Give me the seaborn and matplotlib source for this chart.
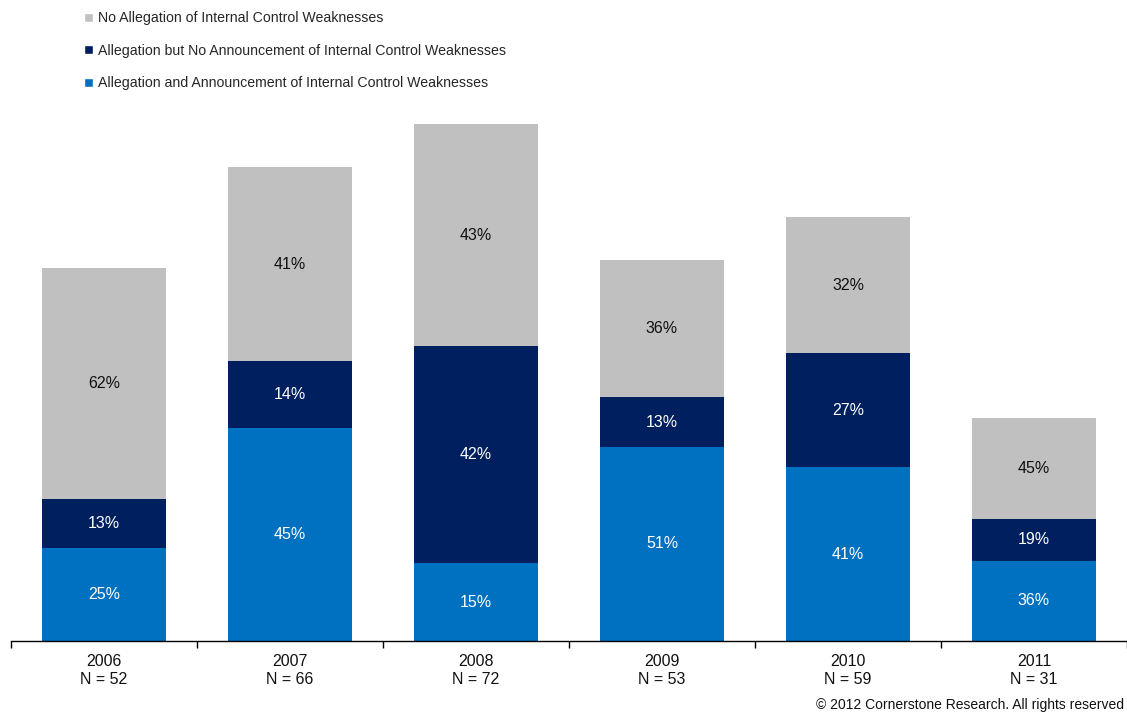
import matplotlib
matplotlib.use("Agg")
import matplotlib.pyplot as plt
from matplotlib.patches import Patch
from matplotlib.ticker import FixedLocator
import numpy as np
import pandas as pd
import seaborn as sns

# Filing counts and segment shares per year
years = ["2006", "2007", "2008", "2009", "2010", "2011"]
n_cases = [52, 66, 72, 53, 59, 31]
pct_announced = [25, 45, 15, 51, 41, 36]      # allegation and announcement
pct_not_announced = [13, 14, 42, 13, 27, 19]  # allegation, no announcement
pct_no_allegation = [62, 41, 43, 36, 32, 45]  # no allegation

series_names = [
    "No Allegation of Internal Control Weaknesses",
    "Allegation but No Announcement of Internal Control Weaknesses",
    "Allegation and Announcement of Internal Control Weaknesses",
]
colors = {"gray": "#C0C0C0", "navy": "#001F5F", "blue": "#0070C0"}

sns.set_theme(style="white")
plt.rcParams["font.family"] = ["Liberation Sans", "DejaVu Sans"]

n = np.array(n_cases, dtype=float)
a = n * np.array(pct_announced) / 100
b = n * np.array(pct_not_announced) / 100
c = n * np.array(pct_no_allegation) / 100

df = pd.DataFrame({
    "year": years,
    "total": a + b + c,
    "lower_two": a + b,
    "lower_one": a,
})

fig = plt.figure(figsize=(11.27, 7.17), dpi=100)
ax = fig.add_axes([11 / 1127, 76 / 717, 1 - 11 / 1127, (641 - 110) / 717])

# Stack by overdrawing cumulative heights from the tallest down
sns.barplot(data=df, x="year", y="total", color=colors["gray"], width=0.667,
            saturation=1, ax=ax, linewidth=0)
sns.barplot(data=df, x="year", y="lower_two", color=colors["navy"], width=0.667,
            saturation=1, ax=ax, linewidth=0)
sns.barplot(data=df, x="year", y="lower_one", color=colors["blue"], width=0.667,
            saturation=1, ax=ax, linewidth=0)

ax.set_xlim(-0.5, 5.5)
ax.set_ylim(0, (641 - 110) / 7.18)

# Segment labels centred in each piece
for i in range(len(years)):
    ax.text(i, a[i] / 2, f"{pct_announced[i]}%", ha="center", va="center",
            color="white", fontsize=11.5)
    ax.text(i, a[i] + b[i] / 2, f"{pct_not_announced[i]}%", ha="center",
            va="center", color="white", fontsize=11.5)
    ax.text(i, a[i] + b[i] + c[i] / 2, f"{pct_no_allegation[i]}%", ha="center",
            va="center", color="#111111", fontsize=11.5)

# Axes styling: only the baseline, with ticks between categories
for side in ["left", "right", "top"]:
    ax.spines[side].set_visible(False)
ax.spines["bottom"].set_color("black")
ax.spines["bottom"].set_linewidth(1.0)
ax.set_yticks([])
ax.set_ylabel("")
ax.set_xlabel("")
ax.set_xticks(range(len(years)))
ax.set_xticklabels([f"{y}\nN = {k}" for y, k in zip(years, n_cases)],
                   fontsize=11.5, color="#111111", linespacing=1.25)
ax.tick_params(axis="x", which="major", length=0, pad=9)
ax.xaxis.set_minor_locator(FixedLocator(np.arange(-0.5, 6.0, 1.0)))
ax.tick_params(axis="x", which="minor", length=5, width=1, color="black",
               direction="out", bottom=True)

# Legend in the top-left corner
handles = [Patch(facecolor=colors["gray"], label=series_names[0]),
           Patch(facecolor=colors["navy"], label=series_names[1]),
           Patch(facecolor=colors["blue"], label=series_names[2])]
fig.legend(handles=handles, loc="upper left", bbox_to_anchor=(80 / 1127, 1 - 7 / 717),
           frameon=False, fontsize=10.2, handlelength=0.6, handleheight=0.6,
           handletextpad=0.4, labelspacing=1.3, borderaxespad=0, borderpad=0.3)

fig.text(1 - 3 / 1127, 5 / 717, "\u00a9 2012 Cornerstone Research. All rights reserved",
         ha="right", va="bottom", fontsize=10, color="#111111")

fig.savefig("out.png", dpi=100)
